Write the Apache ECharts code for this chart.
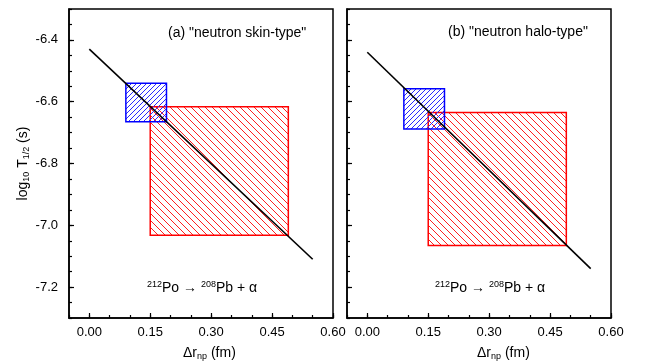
<!DOCTYPE html>
<html>
<head>
<meta charset="utf-8">
<script src="https://cdn.jsdelivr.net/npm/echarts@6/dist/echarts.min.js"></script>
<style>html,body{margin:0;padding:0;background:#fff}#c{width:648px;height:361px}</style>
</head>
<body>
<div id="c"></div>
<script>
// ---- data ----
const xMajorTicks = [0, 0.15, 0.30, 0.45, 0.60];
const yMajorTicks = [-7.2, -7.0, -6.8, -6.6, -6.4];
const panelTitles = ['(a) "neutron skin-type"', '(b) "neutron halo-type"'];
// straight line (x, log10 T1/2)
const lineSkin = [[0.00, -6.43], [0.55, -7.11]];
const lineHalo = [[0.00, -6.44], [0.55, -7.14]];
// boxes: [x0, x1, y0, y1]
const blueSkin = [0.09, 0.19, -6.665, -6.54];
const redSkin  = [0.15, 0.49, -7.032, -6.616];
const blueHalo = [0.09, 0.19, -6.688, -6.558];
const redHalo  = [0.15, 0.49, -7.065, -6.635];

// ---- hatch patterns ----
function hatch(size, color, dir) {
  const c = document.createElement('canvas');
  c.width = size; c.height = size;
  const g = c.getContext('2d');
  g.strokeStyle = color; g.lineWidth = 1;
  g.beginPath();
  if (dir === '/') {
    g.moveTo(0, size); g.lineTo(size, 0);
    g.moveTo(-1, 1); g.lineTo(1, -1);
    g.moveTo(size - 1, size + 1); g.lineTo(size + 1, size - 1);
  } else {
    g.moveTo(0, 0); g.lineTo(size, size);
    g.moveTo(-1, size - 1); g.lineTo(1, size + 1);
    g.moveTo(size - 1, -1); g.lineTo(size + 1, 1);
  }
  g.stroke();
  return {image: c, repeat: 'repeat'};
}
const bluePat = hatch(5, '#2a2aff', '/');
const redPat = hatch(7, '#ff2020', '\\');

const FONT = 'Liberation Sans, Arial, sans-serif';
const chart = echarts.init(document.getElementById('c'));

const grids = [
  {left: 69, top: 9, width: 264, height: 309},
  {left: 347, top: 9, width: 264, height: 309}
].map(g => Object.assign(g, {show: true, borderColor: '#000', borderWidth: 1.5, backgroundColor: 'transparent'}));

const xAxes = [], yAxes = [];
[0, 1].forEach(i => {
  xAxes.push({
    type: 'value', gridIndex: i, min: -0.05, max: 0.60, position: 'bottom',
    axisLine: {show: true, onZero: false, lineStyle: {color: '#000', width: 1.5}},
    axisTick: {show: true, inside: true, length: 5, customValues: xMajorTicks, lineStyle: {color: '#000', width: 1.2}},
    axisLabel: {show: true, customValues: xMajorTicks, formatter: v => v.toFixed(2), color: '#000', fontSize: 13, fontFamily: FONT, margin: 8},
    splitLine: {show: false}
  });
  xAxes.push({
    type: 'value', gridIndex: i, min: -0.05, max: 0.60, interval: 0.05, position: 'bottom',
    axisLine: {show: false, onZero: false},
    axisTick: {show: true, inside: true, length: 3, lineStyle: {color: '#000', width: 1.2}},
    axisLabel: {show: false}, splitLine: {show: false}
  });
  yAxes.push({
    type: 'value', gridIndex: i, min: -7.3, max: -6.3, position: 'left',
    axisLine: {show: true, onZero: false, lineStyle: {color: '#000', width: 1.5}},
    axisTick: {show: true, inside: true, length: 5, customValues: yMajorTicks, lineStyle: {color: '#000', width: 1.2}},
    axisLabel: {show: i === 0, customValues: yMajorTicks, formatter: v => v.toFixed(1), color: '#000', fontSize: 13, fontFamily: FONT, margin: 11},
    splitLine: {show: false},
    name: i === 0 ? '{n|log}{s|10}{n| T}{s|1/2}{n| (s)}' : '',
    nameLocation: 'middle', nameGap: 38, nameRotate: 90,
    nameTextStyle: {
      color: '#000', fontFamily: FONT,
      rich: {
        n: {fontSize: 14, fontFamily: FONT, color: '#000'},
        s: {fontSize: 9, fontFamily: FONT, color: '#000', padding: [7, 0, 0, 0]}
      }
    }
  });
  yAxes.push({
    type: 'value', gridIndex: i, min: -7.3, max: -6.3, interval: 0.05, position: 'left',
    axisLine: {show: false, onZero: false},
    axisTick: {show: true, inside: true, length: 3, lineStyle: {color: '#000', width: 1.2}},
    axisLabel: {show: false}, splitLine: {show: false}
  });
});

function boxSeries(box, pat, stroke, ai) {
  return {
    type: 'custom', xAxisIndex: ai, yAxisIndex: ai,
    data: [box], encode: {x: [0, 1], y: [2, 3]},
    renderItem: function (params, api) {
      const p0 = api.coord([api.value(0), api.value(3)]);
      const p1 = api.coord([api.value(1), api.value(2)]);
      return {
        type: 'rect',
        shape: {x: p0[0], y: p0[1], width: p1[0] - p0[0], height: p1[1] - p0[1]},
        style: {fill: pat, stroke: stroke, lineWidth: 1.5}
      };
    },
    silent: true, z: 2
  };
}
function lineSeries(d, ai) {
  return {
    type: 'line', xAxisIndex: ai, yAxisIndex: ai, data: d, showSymbol: false, silent: true,
    lineStyle: {color: '#000', width: 1.6}, z: 5
  };
}

const annRich = {
  sup: {fontSize: 9, fontFamily: FONT, fill: '#000', padding: [0, 0, 7, 0]},
  n: {fontSize: 14, fontFamily: FONT, fill: '#000'}
};
function annText(x) {
  return {
    type: 'text', left: x, top: 280,
    style: {text: '{sup|212}{n|Po → }{sup|208}{n|Pb + α}', rich: annRich, fill: '#000'}
  };
}
function xName(cx) {
  return {
    type: 'text', left: cx, top: 346,
    style: {text: '{n|Δr}{s|np}{n| (fm)}', rich: {
      n: {fontSize: 14, fontFamily: FONT, fill: '#000'},
      s: {fontSize: 9, fontFamily: FONT, fill: '#000', padding: [7, 0, 0, 0]}
    }, fill: '#000'}
  };
}

chart.setOption({
  animation: false,
  backgroundColor: '#fff',
  grid: grids,
  xAxis: xAxes,
  yAxis: yAxes,
  series: [
    boxSeries(redSkin, redPat, '#ff0000', 0),
    boxSeries(blueSkin, bluePat, '#0000ff', 0),
    lineSeries(lineSkin, 0),
    boxSeries(redHalo, redPat, '#ff0000', 2),
    boxSeries(blueHalo, bluePat, '#0000ff', 2),
    lineSeries(lineHalo, 2)
  ],
  graphic: [
    {type: 'text', left: 168, top: 26, style: {text: panelTitles[0], font: '14px ' + FONT, fill: '#000'}},
    {type: 'text', left: 448, top: 25, style: {text: panelTitles[1], font: '14px ' + FONT, fill: '#000'}},
    annText(147), annText(435),
    xName(183), xName(477)
  ]
});
</script>
</body>
</html>
